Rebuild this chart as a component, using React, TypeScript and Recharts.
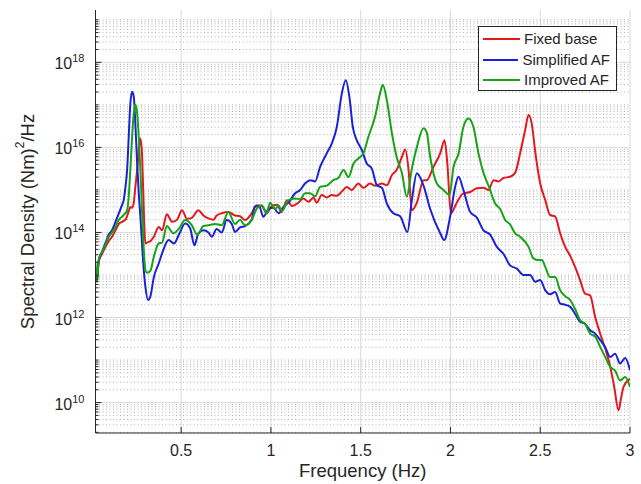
import React from 'react';
import { LineChart, Line, XAxis, YAxis, CartesianGrid, Legend } from 'recharts';

// [frequency (Hz), log10 of spectral density]
const fixedBase: number[][] = [
  [0.023, 13.1], [0.03, 12.85], [0.041, 13.3], [0.06, 13.5], [0.078, 13.65], [0.097, 13.8], [0.115, 13.9],
  [0.134, 14.05], [0.153, 14.2], [0.171, 14.25], [0.19, 14.3], [0.208, 14.5], [0.217, 14.6], [0.227, 14.58],
  [0.236, 14.7], [0.245, 15.07], [0.255, 15.47], [0.264, 15.94], [0.273, 16.21], [0.282, 15.86], [0.288, 15.07],
  [0.295, 14.13], [0.301, 13.74], [0.31, 13.76], [0.329, 13.8], [0.348, 13.9], [0.375, 14.13], [0.394, 14.05],
  [0.42, 14.43], [0.45, 14.25], [0.477, 14.3], [0.505, 14.52], [0.533, 14.32], [0.561, 14.35], [0.596, 14.52],
  [0.624, 14.4], [0.652, 14.33], [0.68, 14.3], [0.698, 14.4], [0.726, 14.45], [0.763, 14.48], [0.8, 14.4],
  [0.828, 14.38], [0.856, 14.29], [0.893, 14.45], [0.92, 14.64], [0.949, 14.62], [0.977, 14.45], [1.0, 14.6],
  [1.033, 14.65], [1.06, 14.48], [1.089, 14.76], [1.117, 14.62], [1.153, 14.7], [1.18, 14.8], [1.21, 14.72],
  [1.237, 14.82], [1.255, 14.7], [1.283, 14.88], [1.311, 14.82], [1.339, 14.88], [1.367, 14.86], [1.395, 14.96],
  [1.423, 15.07], [1.45, 15.0], [1.487, 15.15], [1.515, 15.05], [1.552, 15.15], [1.58, 15.1], [1.618, 15.15],
  [1.646, 15.11], [1.674, 15.35], [1.7, 15.47], [1.73, 15.78], [1.748, 15.95], [1.766, 15.5], [1.785, 14.52],
  [1.813, 14.7], [1.85, 15.23], [1.868, 15.23], [1.905, 15.54], [1.943, 15.86], [1.967, 16.17], [1.983, 15.6],
  [2.002, 14.45], [2.035, 14.7], [2.072, 14.92], [2.11, 14.95], [2.147, 15.04], [2.184, 15.05], [2.212, 15.0],
  [2.24, 15.23], [2.268, 15.2], [2.295, 15.28], [2.333, 15.31], [2.36, 15.4], [2.388, 15.86], [2.416, 16.41],
  [2.435, 16.76], [2.453, 16.55], [2.472, 15.9], [2.5, 15.15], [2.528, 14.76], [2.555, 14.41], [2.583, 14.38],
  [2.611, 13.98], [2.639, 13.66], [2.667, 13.45], [2.694, 13.19], [2.722, 12.88], [2.75, 12.56], [2.778, 12.52],
  [2.806, 12.01], [2.834, 11.62], [2.862, 11.27], [2.89, 10.84], [2.912, 10.37], [2.936, 9.82], [2.95, 10.1],
  [2.964, 10.37], [3.0, 10.56],
];

const simplifiedAF: number[][] = [
  [0.023, 13.2], [0.03, 12.85], [0.041, 13.35], [0.06, 13.55], [0.078, 13.75], [0.097, 13.95], [0.115, 14.05],
  [0.134, 14.25], [0.153, 14.45], [0.171, 14.65], [0.18, 14.76], [0.19, 15.07], [0.199, 15.47], [0.208, 16.25],
  [0.217, 17.03], [0.227, 17.31], [0.236, 17.2], [0.245, 16.56], [0.255, 15.62], [0.264, 14.92], [0.273, 14.37],
  [0.282, 13.74], [0.292, 13.11], [0.301, 12.72], [0.316, 12.41], [0.329, 12.5], [0.348, 12.95], [0.375, 13.27],
  [0.4, 13.58], [0.43, 13.82], [0.46, 13.74], [0.49, 13.97], [0.522, 14.21], [0.55, 14.1], [0.574, 13.7],
  [0.596, 13.98], [0.624, 14.05], [0.652, 14.0], [0.671, 13.9], [0.698, 14.08], [0.726, 14.0], [0.754, 14.29],
  [0.782, 14.2], [0.8, 14.01], [0.828, 14.12], [0.856, 14.15], [0.893, 14.3], [0.91, 14.6], [0.934, 14.62],
  [0.958, 14.37], [0.986, 14.55], [1.014, 14.58], [1.043, 14.45], [1.07, 14.6], [1.098, 14.7], [1.135, 14.92],
  [1.163, 15.0], [1.19, 15.15], [1.22, 15.23], [1.246, 15.2], [1.274, 15.54], [1.311, 15.86], [1.339, 16.09],
  [1.367, 16.48], [1.395, 17.27], [1.417, 17.58], [1.437, 17.19], [1.456, 16.48], [1.478, 16.17], [1.506, 15.94],
  [1.534, 15.62], [1.562, 15.5], [1.59, 15.11], [1.618, 15.05], [1.646, 14.68], [1.682, 14.45], [1.72, 14.38],
  [1.76, 14.01], [1.785, 14.76], [1.813, 15.39], [1.85, 15.1], [1.887, 14.55], [1.943, 13.98], [1.965, 13.82],
  [1.998, 14.37], [2.026, 15.07], [2.045, 15.31], [2.072, 15.0], [2.11, 14.48], [2.147, 14.35], [2.184, 14.05],
  [2.221, 13.95], [2.258, 13.66], [2.295, 13.5], [2.333, 13.22], [2.37, 13.15], [2.407, 13.0], [2.444, 13.0],
  [2.472, 12.84], [2.5, 12.88], [2.528, 12.64], [2.555, 12.55], [2.583, 12.6], [2.611, 12.33], [2.639, 12.3],
  [2.667, 12.25], [2.694, 12.09], [2.722, 11.9], [2.75, 11.85], [2.778, 11.7], [2.806, 11.62], [2.834, 11.47],
  [2.862, 11.3], [2.89, 11.07], [2.917, 11.15], [2.945, 10.92], [2.973, 11.05], [3.0, 10.76],
];

const improvedAF: number[][] = [
  [0.023, 13.3], [0.03, 12.84], [0.041, 13.35], [0.06, 13.55], [0.078, 13.7], [0.097, 13.9], [0.115, 14.0],
  [0.134, 14.13], [0.153, 14.3], [0.171, 14.37], [0.18, 14.41], [0.199, 14.52], [0.208, 14.84], [0.217, 15.47],
  [0.227, 16.25], [0.236, 16.8], [0.245, 17.0], [0.255, 16.8], [0.264, 16.25], [0.273, 15.47], [0.282, 14.52],
  [0.292, 13.58], [0.301, 13.11], [0.31, 13.05], [0.329, 13.1], [0.348, 13.43], [0.375, 13.74], [0.394, 13.76],
  [0.42, 14.15], [0.457, 13.98], [0.49, 14.1], [0.522, 14.29], [0.559, 14.17], [0.59, 13.94], [0.624, 14.15],
  [0.652, 14.17], [0.689, 14.2], [0.726, 14.17], [0.763, 14.48], [0.8, 14.2], [0.828, 14.3], [0.856, 14.17],
  [0.893, 14.3], [0.92, 14.55], [0.949, 14.64], [0.977, 14.45], [0.995, 14.7], [1.024, 14.55], [1.043, 14.64],
  [1.06, 14.5], [1.098, 14.76], [1.135, 14.8], [1.163, 14.78], [1.19, 14.92], [1.218, 14.92], [1.246, 14.85],
  [1.274, 15.07], [1.311, 15.1], [1.348, 15.23], [1.376, 15.28], [1.404, 15.47], [1.432, 15.3], [1.46, 15.62],
  [1.487, 15.74], [1.515, 15.86], [1.543, 16.25], [1.58, 16.72], [1.608, 17.27], [1.623, 17.47], [1.646, 17.1],
  [1.674, 16.33], [1.7, 15.78], [1.73, 15.39], [1.757, 14.84], [1.785, 15.5], [1.813, 16.01], [1.85, 16.45],
  [1.868, 16.35], [1.887, 15.78], [1.924, 15.15], [1.961, 15.0], [1.995, 14.88], [2.017, 15.54], [2.045, 15.85],
  [2.072, 16.48], [2.1, 16.68], [2.128, 16.48], [2.156, 15.86], [2.184, 15.4], [2.212, 15.1], [2.249, 14.68],
  [2.277, 14.55], [2.305, 14.29], [2.33, 14.2], [2.36, 13.98], [2.388, 13.9], [2.435, 13.66], [2.462, 13.39],
  [2.49, 13.35], [2.51, 13.35], [2.528, 13.19], [2.555, 12.95], [2.583, 12.95], [2.611, 12.64], [2.639, 12.5],
  [2.667, 12.41], [2.694, 12.2], [2.722, 11.94], [2.75, 11.85], [2.778, 11.62], [2.806, 11.55], [2.834, 11.31],
  [2.862, 11.07], [2.89, 10.84], [2.917, 10.75], [2.945, 10.52], [2.973, 10.6], [3.0, 10.37],
];

const seriesNames = ['Fixed base', 'Simplified AF', 'Improved AF'];
const seriesColors = ['#e2191e', '#1b22d6', '#16a316'];
const xTicks = [0.5, 1, 1.5, 2, 2.5, 3];
const yLabelExponents = [10, 12, 14, 16, 18];
const xTitle = 'Frequency (Hz)';

const FONT = '"Liberation Sans", Arial, Helvetica, sans-serif';
const TEXT = '#262626';
const X_DOMAIN = [0.023, 3];
const Y_DOMAIN = [Math.pow(10, 9.285), Math.pow(10, 19.23)];

const toPoints = (arr: number[][]) => arr.map(([f, e]) => ({ f, v: Math.pow(10, e) }));
const series = [fixedBase, simplifiedAF, improvedAF].map(toPoints);

const majorY = yLabelExponents.map((e) => Math.pow(10, e));
const minorY: number[] = [];
for (let d = 9; d <= 19; d++) {
  for (let m = 1; m <= 9; m++) {
    const v = m * Math.pow(10, d);
    if (v < Y_DOMAIN[0] || v > Y_DOMAIN[1]) continue;
    if (m === 1 && yLabelExponents.includes(d)) continue;
    minorY.push(v);
  }
}
const allY = [...majorY, ...minorY].sort((a, b) => a - b);

const YTick = (props: any) => {
  const { x, y, payload } = props;
  const v = payload.value;
  const e = Math.round(Math.log10(v));
  const isMajor = Math.abs(v / Math.pow(10, e) - 1) < 1e-6 && yLabelExponents.includes(e);
  return (
    <g>
      <line x1={x} x2={x + (isMajor ? 6 : 3)} y1={y} y2={y} stroke={TEXT} strokeWidth={1} />
      {isMajor && (
        <text x={x - 11} y={y + 7} textAnchor="end" fontSize={16} fill={TEXT} fontFamily={FONT}>
          10
          <tspan dy={-7} fontSize={11}>{e}</tspan>
        </text>
      )}
    </g>
  );
};

const XTick = (props: any) => {
  const { x, y, payload } = props;
  return (
    <g>
      <line x1={x} x2={x} y1={y} y2={y - 6} stroke={TEXT} strokeWidth={1} />
      <text x={x} y={y + 23} textAnchor="middle" fontSize={16} fill={TEXT} fontFamily={FONT}>
        {String(payload.value)}
      </text>
    </g>
  );
};

const LegendBox = (props: any) => {
  const payload = [...(props.payload || [])].sort(
    (a: any, b: any) => seriesNames.indexOf(a.value) - seriesNames.indexOf(b.value)
  );
  return (
    <div
      style={{
        border: `1px solid ${TEXT}`,
        background: '#fff',
        padding: '2px 6px 2px 4px',
        fontSize: 15,
        fontFamily: FONT,
        color: TEXT,
        lineHeight: '20.5px',
        boxSizing: 'border-box',
        width: 139,
        height: 65,
      }}
    >
      {payload.map((p: any) => (
        <div key={p.value} style={{ display: 'flex', alignItems: 'center', whiteSpace: 'nowrap' }}>
          <span style={{ display: 'inline-block', width: 37, height: 0, borderTop: `2px solid ${p.color}`, marginRight: 4 }} />
          {p.value}
        </div>
      ))}
    </div>
  );
};

const YTitle = (props: any) => {
  const vb = props.viewBox || { x: 0, y: 10, width: 95, height: 423 };
  const cy = vb.y + vb.height / 2;
  const cx = 27;
  return (
    <text
      x={cx}
      y={cy}
      transform={`rotate(-90 ${cx} ${cy})`}
      textAnchor="middle"
      dominantBaseline="central"
      fontSize={18.5}
      fill={TEXT}
      fontFamily={FONT}
    >
      Spectral Density (Nm)
      <tspan dy={-7} fontSize={12}>2</tspan>
      <tspan dy={7}>/Hz</tspan>
    </text>
  );
};

const XTitle = (props: any) => {
  const vb = props.viewBox || { x: 95, y: 433, width: 535, height: 40 };
  return (
    <text x={vb.x + vb.width / 2} y={vb.y + 44} textAnchor="middle" fontSize={18.5} fill={TEXT} fontFamily={FONT}>
      {xTitle}
    </text>
  );
};

export default function App() {
  return (
    <div style={{ position: 'absolute', left: 0, top: 0, background: '#fff' }}>
      <LineChart width={641} height={484} margin={{ top: 10, right: 11, bottom: 0, left: 0 }}>
        <CartesianGrid stroke="#dadada" strokeWidth={1} horizontalValues={majorY} verticalValues={xTicks} />
        <CartesianGrid stroke="#b0b0b0" strokeWidth={1} strokeDasharray="1 2.5" horizontalValues={minorY} vertical={false} />
        <XAxis
          dataKey="f"
          type="number"
          domain={X_DOMAIN}
          allowDataOverflow
          ticks={xTicks}
          interval={0}
          tick={<XTick />}
          tickLine={false}
          tickSize={0}
          tickMargin={0}
          stroke={TEXT}
          height={51}
          label={{ content: <XTitle /> }}
        />
        <YAxis
          dataKey="v"
          scale="log"
          domain={Y_DOMAIN}
          allowDataOverflow
          ticks={allY}
          interval={0}
          tick={<YTick />}
          tickLine={false}
          tickSize={0}
          tickMargin={0}
          stroke={TEXT}
          width={95.5}
          label={{ content: <YTitle /> }}
        />
        {series.map((pts, i) => (
          <Line
            key={seriesNames[i]}
            data={pts}
            dataKey="v"
            name={seriesNames[i]}
            type="monotone"
            stroke={seriesColors[i]}
            strokeWidth={2}
            dot={false}
            activeDot={false}
            isAnimationActive={false}
          />
        ))}
        <Legend
          layout="vertical"
          align="center"
          verticalAlign="middle"
          content={<LegendBox />}
          wrapperStyle={{ left: 478, top: 26, width: 139, height: 65 }}
        />
      </LineChart>
    </div>
  );
}
